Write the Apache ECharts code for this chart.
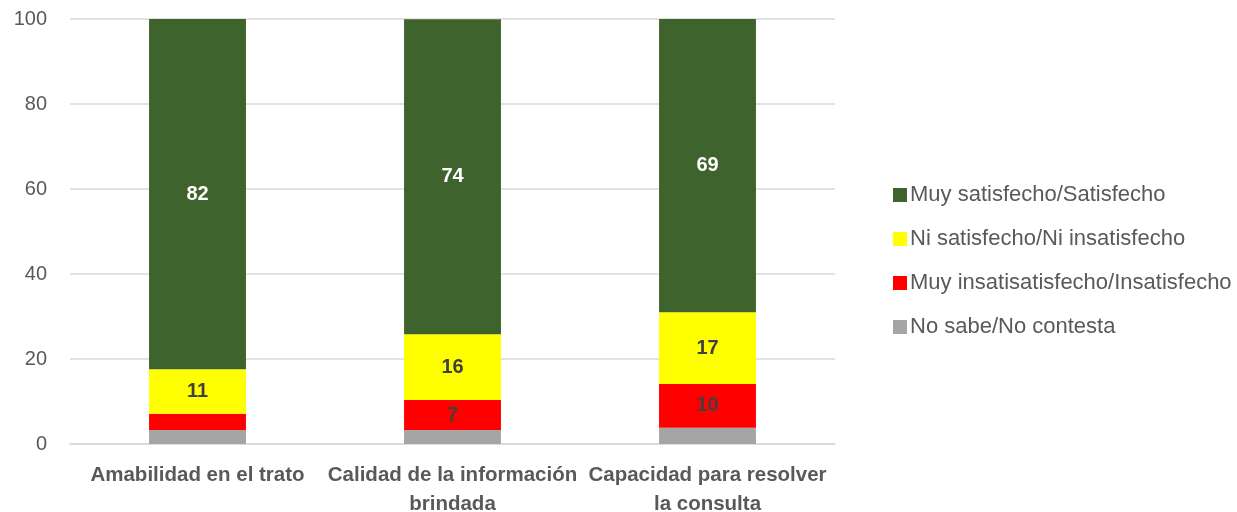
<!DOCTYPE html>
<html>
<head>
<meta charset="utf-8">
<script src="https://cdn.jsdelivr.net/npm/echarts@6/dist/echarts.min.js"></script>
<style>
  html, body { margin: 0; padding: 0; background: #fff; }
  #chart { width: 1237px; height: 512px; }
</style>
</head>
<body>
<div id="chart"></div>
<script>
// datos
const categorias = ['Amabilidad en el trato', 'Calidad de la información\nbrindada', 'Capacidad para resolver\nla consulta'];
const noSabe = [3.3, 3.3, 3.8];
const insatisfecho = [3.8, 7.05, 10.3];
const ni = [10.5, 15.5, 16.9];
const satisfecho = [82.4, 74.1, 69.1];
const ticksY = [0, 20, 40, 60, 80, 100];

const FONT = '"Liberation Sans", sans-serif';
const labelFmt = p => (p.value < 5 ? '' : Math.round(p.value));

function serie(name, data, color, txtColor) {
  return {
    name: name,
    type: 'bar',
    stack: 'total',
    data: data,
    barWidth: '38%',
    itemStyle: { color: color },
    label: {
      show: name !== 'No sabe/No contesta',
      position: 'inside',
      formatter: labelFmt,
      color: txtColor,
      fontWeight: 'bold',
      fontSize: 20,
      fontFamily: FONT
    }
  };
}

const chart = echarts.init(document.getElementById('chart'));
chart.setOption({
  animation: false,
  grid: { left: 70, right: 402, top: 19, bottom: 68, outerBoundsMode: 'none' },
  legend: {
    orient: 'vertical',
    left: 888,
    top: 179,
    itemWidth: 14,
    itemHeight: 14,
    itemGap: 22,
    icon: 'rect',
    data: ['Muy satisfecho/Satisfecho', 'Ni satisfecho/Ni insatisfecho', 'Muy insatisatisfecho/Insatisfecho', 'No sabe/No contesta'],
    textStyle: { color: '#595959', fontSize: 22, fontFamily: FONT, padding: [0, 0, 0, -2] }
  },
  xAxis: {
    type: 'category',
    data: categorias,
    axisLine: { lineStyle: { color: '#d9d9d9', width: 1.5 } },
    axisTick: { show: false },
    axisLabel: {
      color: '#595959',
      fontSize: 20.5,
      fontWeight: 'bold',
      fontFamily: FONT,
      lineHeight: 29,
      margin: 17,
      interval: 0
    }
  },
  yAxis: {
    type: 'value',
    min: ticksY[0],
    max: ticksY[ticksY.length - 1],
    interval: 20,
    axisLine: { show: false },
    axisTick: { show: false },
    splitLine: { lineStyle: { color: '#d9d9d9', width: 1.5 } },
    axisLabel: { color: '#595959', fontSize: 20, fontFamily: FONT, margin: 23 }
  },
  series: [
    serie('No sabe/No contesta', noSabe, '#a5a5a5', '#404040'),
    serie('Muy insatisatisfecho/Insatisfecho', insatisfecho, '#ff0000', '#404040'),
    serie('Ni satisfecho/Ni insatisfecho', ni, '#ffff00', '#404040'),
    serie('Muy satisfecho/Satisfecho', satisfecho, '#3f632d', '#ffffff')
  ]
});
</script>
</body>
</html>
